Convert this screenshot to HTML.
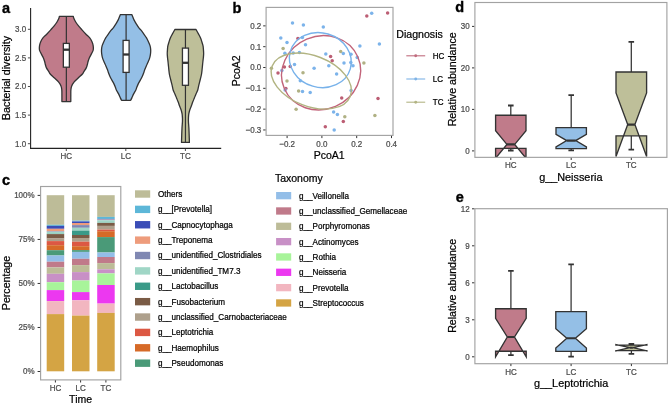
<!DOCTYPE html>
<html><head><meta charset="utf-8"><style>
html,body{margin:0;padding:0;background:#fff;width:669px;height:405px;overflow:hidden;}
svg{display:block;will-change:transform;font-family:"Liberation Sans", sans-serif;}
</style></head><body>
<svg width="669" height="405" viewBox="0 0 669 405" font-family='"Liberation Sans", sans-serif'><rect width="669" height="405" fill="#fff"/><text x="2" y="13" font-size="14.5" fill="#000" text-anchor="start" font-weight="bold" stroke="#000" stroke-width="0.35" >a</text>
<path d="M59.35,16.4 L73.35,16.4 C73.41,16.67 73.31,17.07 73.7,18 C74.09,18.93 74.9,20.68 75.7,22 C76.5,23.32 77.45,24.58 78.5,25.9 C79.55,27.22 80.79,28.55 82,29.9 C83.21,31.25 84.46,32.66 85.75,34 C87.04,35.34 88.69,36.63 89.75,37.95 C90.81,39.27 91.52,40.58 92.1,41.9 C92.67,43.22 93.01,44.53 93.2,45.85 C93.39,47.17 93.55,48.46 93.25,49.8 C92.95,51.14 92.04,52.56 91.4,53.9 C90.76,55.24 89.97,56.53 89.4,57.85 C88.83,59.17 88.34,60.69 88,61.8 C87.66,62.91 87.64,63.48 87.35,64.5 C87.06,65.52 86.85,66.67 86.25,67.9 C85.65,69.13 84.38,70.88 83.75,71.9 C83.12,72.92 83.37,72.98 82.45,74 C81.52,75.02 79.57,76.68 78.2,78 C76.82,79.32 75.28,80.58 74.2,81.9 C73.12,83.22 72.25,84.58 71.7,85.9 C71.15,87.22 71.05,88.28 70.9,89.8 C70.75,91.32 70.82,93.03 70.8,95 C70.78,96.97 70.8,100.5 70.8,101.6 L61.9,101.6 C61.9,100.5 61.92,96.97 61.9,95 C61.88,93.03 61.95,91.32 61.8,89.8 C61.65,88.28 61.55,87.22 61,85.9 C60.45,84.58 59.58,83.22 58.5,81.9 C57.42,80.58 55.87,79.32 54.5,78 C53.12,76.68 51.17,75.02 50.25,74 C49.32,72.98 49.58,72.92 48.95,71.9 C48.32,70.88 47.05,69.13 46.45,67.9 C45.85,66.67 45.64,65.52 45.35,64.5 C45.06,63.48 45.04,62.91 44.7,61.8 C44.36,60.69 43.87,59.17 43.3,57.85 C42.73,56.53 41.94,55.24 41.3,53.9 C40.66,52.56 39.75,51.14 39.45,49.8 C39.15,48.46 39.31,47.17 39.5,45.85 C39.69,44.53 40.02,43.22 40.6,41.9 C41.17,40.58 41.89,39.27 42.95,37.95 C44.01,36.63 45.66,35.34 46.95,34 C48.24,32.66 49.49,31.25 50.7,29.9 C51.91,28.55 53.15,27.22 54.2,25.9 C55.25,24.58 56.2,23.32 57,22 C57.8,20.68 58.61,18.93 59,18 C59.39,17.07 59.29,16.67 59.35,16.4 Z" fill="#C07B8A" stroke="#333" stroke-width="1.3" stroke-linejoin="round"/>
<line x1="66.35" y1="16.4" x2="66.35" y2="101.6" stroke="#333" stroke-width="1.2" />
<rect x="63.35" y="43.4" width="6" height="23.8" fill="#fff" stroke="#333" stroke-width="1.3"/>
<line x1="63.35" y1="49.7" x2="69.35" y2="49.7" stroke="#333" stroke-width="2.3" />
<path d="M120.4,14.6 L131.8,14.6 C131.9,14.82 132.03,15.07 132.4,15.95 C132.77,16.83 133.35,18.58 134,19.9 C134.65,21.22 135.48,22.53 136.3,23.85 C137.12,25.17 138.15,26.78 138.9,27.8 C139.65,28.82 140,28.93 140.8,29.95 C141.6,30.97 142.75,32.58 143.7,33.9 C144.65,35.22 145.7,36.52 146.5,37.85 C147.3,39.18 147.9,40.55 148.5,41.9 C149.1,43.25 149.73,44.62 150.1,45.95 C150.47,47.28 150.63,48.58 150.7,49.9 C150.77,51.22 150.67,52.52 150.5,53.85 C150.33,55.18 150.1,56.55 149.7,57.9 C149.3,59.25 148.67,60.62 148.1,61.95 C147.53,63.28 146.87,64.58 146.3,65.9 C145.73,67.22 145.08,68.83 144.7,69.85 C144.32,70.87 144.38,70.98 144,72 C143.62,73.02 143.04,74.63 142.45,75.95 C141.86,77.27 141.15,78.58 140.45,79.9 C139.75,81.22 138.88,82.58 138.25,83.85 C137.62,85.12 137.1,86.48 136.7,87.5 C136.3,88.52 136.36,88.88 135.85,89.95 C135.34,91.02 134.32,92.58 133.65,93.9 C132.98,95.22 132.35,96.78 131.85,97.85 C131.35,98.92 130.85,99.89 130.65,100.3 L121.55,100.3 C121.35,99.89 120.85,98.92 120.35,97.85 C119.85,96.78 119.22,95.22 118.55,93.9 C117.88,92.58 116.86,91.02 116.35,89.95 C115.84,88.88 115.9,88.52 115.5,87.5 C115.1,86.48 114.57,85.12 113.95,83.85 C113.32,82.58 112.45,81.22 111.75,79.9 C111.05,78.58 110.34,77.27 109.75,75.95 C109.16,74.63 108.57,73.02 108.2,72 C107.82,70.98 107.88,70.87 107.5,69.85 C107.12,68.83 106.47,67.22 105.9,65.9 C105.33,64.58 104.67,63.28 104.1,61.95 C103.53,60.62 102.9,59.25 102.5,57.9 C102.1,56.55 101.87,55.18 101.7,53.85 C101.53,52.52 101.43,51.22 101.5,49.9 C101.57,48.58 101.73,47.28 102.1,45.95 C102.47,44.62 103.1,43.25 103.7,41.9 C104.3,40.55 104.9,39.18 105.7,37.85 C106.5,36.52 107.55,35.22 108.5,33.9 C109.45,32.58 110.6,30.97 111.4,29.95 C112.2,28.93 112.55,28.82 113.3,27.8 C114.05,26.78 115.08,25.17 115.9,23.85 C116.72,22.53 117.55,21.22 118.2,19.9 C118.85,18.58 119.43,16.83 119.8,15.95 C120.17,15.07 120.3,14.82 120.4,14.6 Z" fill="#94BFE6" stroke="#333" stroke-width="1.3" stroke-linejoin="round"/>
<line x1="126.1" y1="14.6" x2="126.1" y2="100.3" stroke="#333" stroke-width="1.2" />
<rect x="123.1" y="40.4" width="6" height="32" fill="#fff" stroke="#333" stroke-width="1.3"/>
<line x1="123.1" y1="54.5" x2="129.1" y2="54.5" stroke="#333" stroke-width="2.3" />
<path d="M174.85,29.5 L196.05,29.5 C196.45,30.23 197.72,32.51 198.45,33.9 C199.18,35.29 199.88,36.53 200.45,37.85 C201.02,39.17 201.42,40.45 201.85,41.8 C202.28,43.15 202.78,44.6 203.05,45.95 C203.32,47.3 203.35,48.58 203.45,49.9 C203.55,51.22 203.67,52.53 203.65,53.85 C203.63,55.17 203.48,56.45 203.35,57.8 C203.22,59.15 203,60.6 202.85,61.95 C202.7,63.3 202.58,64.58 202.45,65.9 C202.32,67.22 202.2,68.5 202.05,69.85 C201.9,71.2 201.78,72.65 201.55,74 C201.32,75.35 200.97,76.63 200.65,77.95 C200.33,79.27 199.98,80.58 199.65,81.9 C199.32,83.22 198.97,84.5 198.65,85.85 C198.33,87.2 198.19,88.65 197.75,90 C197.31,91.35 196.56,92.63 196,93.95 C195.44,95.27 194.93,96.58 194.4,97.9 C193.87,99.22 193.3,100.53 192.8,101.85 C192.3,103.17 191.91,104.45 191.4,105.8 C190.89,107.15 190.18,108.6 189.75,109.95 C189.32,111.3 189.02,112.58 188.8,113.9 C188.58,115.22 188.51,116.53 188.45,117.85 C188.39,119.17 188.38,120.11 188.45,121.8 C188.52,123.49 188.77,125.65 188.9,128 C189.02,130.35 189.12,133.5 189.2,135.9 C189.28,138.3 189.37,141.32 189.4,142.4 L181.5,142.4 C181.53,141.32 181.62,138.3 181.7,135.9 C181.78,133.5 181.88,130.35 182,128 C182.12,125.65 182.38,123.49 182.45,121.8 C182.52,120.11 182.51,119.17 182.45,117.85 C182.39,116.53 182.32,115.22 182.1,113.9 C181.88,112.58 181.58,111.3 181.15,109.95 C180.72,108.6 180.01,107.15 179.5,105.8 C178.99,104.45 178.6,103.17 178.1,101.85 C177.6,100.53 177.03,99.22 176.5,97.9 C175.97,96.58 175.46,95.27 174.9,93.95 C174.34,92.63 173.59,91.35 173.15,90 C172.71,88.65 172.57,87.2 172.25,85.85 C171.93,84.5 171.58,83.22 171.25,81.9 C170.92,80.58 170.57,79.27 170.25,77.95 C169.93,76.63 169.58,75.35 169.35,74 C169.12,72.65 169,71.2 168.85,69.85 C168.7,68.5 168.58,67.22 168.45,65.9 C168.32,64.58 168.2,63.3 168.05,61.95 C167.9,60.6 167.68,59.15 167.55,57.8 C167.42,56.45 167.27,55.17 167.25,53.85 C167.23,52.53 167.35,51.22 167.45,49.9 C167.55,48.58 167.58,47.3 167.85,45.95 C168.12,44.6 168.62,43.15 169.05,41.8 C169.48,40.45 169.88,39.17 170.45,37.85 C171.02,36.53 171.72,35.29 172.45,33.9 C173.18,32.51 174.45,30.23 174.85,29.5 Z" fill="#BEBF99" stroke="#333" stroke-width="1.3" stroke-linejoin="round"/>
<line x1="185.45" y1="29.5" x2="185.45" y2="142.4" stroke="#333" stroke-width="1.2" />
<rect x="182.45" y="48.1" width="6" height="37.2" fill="#fff" stroke="#333" stroke-width="1.3"/>
<line x1="182.45" y1="62.8" x2="188.45" y2="62.8" stroke="#333" stroke-width="2.3" />
<line x1="30.6" y1="8" x2="30.6" y2="148.9" stroke="#222" stroke-width="1.1" />
<line x1="30.05" y1="148.4" x2="221.2" y2="148.4" stroke="#222" stroke-width="1.1" />
<line x1="27.9" y1="29.3" x2="30.1" y2="29.3" stroke="#4D4D4D" stroke-width="1.0" />
<text x="0" y="0" font-size="8" fill="#4D4D4D" text-anchor="end" font-weight="normal" stroke="#4D4D4D" stroke-width="0.22" transform="translate(26.2,32.2) scale(1,1.12)">3.0</text>
<line x1="27.9" y1="57.9" x2="30.1" y2="57.9" stroke="#4D4D4D" stroke-width="1.0" />
<text x="0" y="0" font-size="8" fill="#4D4D4D" text-anchor="end" font-weight="normal" stroke="#4D4D4D" stroke-width="0.22" transform="translate(26.2,60.8) scale(1,1.12)">2.5</text>
<line x1="27.9" y1="86.5" x2="30.1" y2="86.5" stroke="#4D4D4D" stroke-width="1.0" />
<text x="0" y="0" font-size="8" fill="#4D4D4D" text-anchor="end" font-weight="normal" stroke="#4D4D4D" stroke-width="0.22" transform="translate(26.2,89.4) scale(1,1.12)">2.0</text>
<line x1="27.9" y1="115.1" x2="30.1" y2="115.1" stroke="#4D4D4D" stroke-width="1.0" />
<text x="0" y="0" font-size="8" fill="#4D4D4D" text-anchor="end" font-weight="normal" stroke="#4D4D4D" stroke-width="0.22" transform="translate(26.2,118) scale(1,1.12)">1.5</text>
<line x1="27.9" y1="143.7" x2="30.1" y2="143.7" stroke="#4D4D4D" stroke-width="1.0" />
<text x="0" y="0" font-size="8" fill="#4D4D4D" text-anchor="end" font-weight="normal" stroke="#4D4D4D" stroke-width="0.22" transform="translate(26.2,146.6) scale(1,1.12)">1.0</text>
<line x1="66.3" y1="148.9" x2="66.3" y2="151" stroke="#4D4D4D" stroke-width="1.0" />
<text x="0" y="0" font-size="8" fill="#4D4D4D" text-anchor="middle" font-weight="normal" stroke="#4D4D4D" stroke-width="0.22" transform="translate(66.3,158.9) scale(1,1.12)">HC</text>
<line x1="125.8" y1="148.9" x2="125.8" y2="151" stroke="#4D4D4D" stroke-width="1.0" />
<text x="0" y="0" font-size="8" fill="#4D4D4D" text-anchor="middle" font-weight="normal" stroke="#4D4D4D" stroke-width="0.22" transform="translate(125.8,158.9) scale(1,1.12)">LC</text>
<line x1="185.4" y1="148.9" x2="185.4" y2="151" stroke="#4D4D4D" stroke-width="1.0" />
<text x="0" y="0" font-size="8" fill="#4D4D4D" text-anchor="middle" font-weight="normal" stroke="#4D4D4D" stroke-width="0.22" transform="translate(185.4,158.9) scale(1,1.12)">TC</text>
<text x="0" y="0" font-size="10.75" fill="#000" text-anchor="middle" font-weight="normal" stroke="#000" stroke-width="0.22" transform="translate(9.6,78) rotate(-90)">Bacterial diversity</text>
<text x="232.6" y="12.8" font-size="14.5" fill="#000" text-anchor="start" font-weight="bold" stroke="#000" stroke-width="0.35" >b</text>
<defs><clipPath id="cb"><rect x="266" y="7.4" width="126.6" height="128"/></clipPath></defs>
<g clip-path="url(#cb)">
<circle cx="283.1" cy="48.4" r="1.75" fill="#B0B184"/>
<circle cx="340.7" cy="51.5" r="1.75" fill="#B0B184"/>
<circle cx="271.4" cy="68.3" r="1.75" fill="#B0B184"/>
<circle cx="303" cy="72.7" r="1.75" fill="#B0B184"/>
<circle cx="287" cy="81" r="1.75" fill="#B0B184"/>
<circle cx="298.6" cy="91" r="1.75" fill="#B0B184"/>
<circle cx="363.9" cy="63" r="1.75" fill="#B0B184"/>
<circle cx="296.1" cy="109.3" r="1.75" fill="#B0B184"/>
<circle cx="344.8" cy="116.8" r="1.75" fill="#B0B184"/>
<circle cx="374.9" cy="115.5" r="1.75" fill="#B0B184"/>
<circle cx="297.9" cy="38.4" r="1.75" fill="#BC5E74"/>
<circle cx="330.6" cy="56.5" r="1.75" fill="#BC5E74"/>
<circle cx="332.2" cy="60.7" r="1.75" fill="#BC5E74"/>
<circle cx="284.4" cy="66.9" r="1.75" fill="#BC5E74"/>
<circle cx="290.2" cy="66.4" r="1.75" fill="#BC5E74"/>
<circle cx="278" cy="73" r="1.75" fill="#BC5E74"/>
<circle cx="285.9" cy="88.4" r="1.75" fill="#BC5E74"/>
<circle cx="341.7" cy="97.9" r="1.75" fill="#BC5E74"/>
<circle cx="378" cy="98.5" r="1.75" fill="#BC5E74"/>
<circle cx="343.3" cy="121.6" r="1.75" fill="#BC5E74"/>
<circle cx="325.3" cy="126.7" r="1.75" fill="#BC5E74"/>
<circle cx="366.8" cy="15.9" r="1.75" fill="#BC5E74"/>
<circle cx="387.6" cy="13" r="1.75" fill="#BC5E74"/>
<circle cx="292.5" cy="22.9" r="1.75" fill="#7CB3EA"/>
<circle cx="303.4" cy="25.1" r="1.75" fill="#7CB3EA"/>
<circle cx="323.3" cy="27" r="1.75" fill="#7CB3EA"/>
<circle cx="280.8" cy="37.9" r="1.75" fill="#7CB3EA"/>
<circle cx="287" cy="42.5" r="1.75" fill="#7CB3EA"/>
<circle cx="302.4" cy="37.6" r="1.75" fill="#7CB3EA"/>
<circle cx="305.5" cy="44.7" r="1.75" fill="#7CB3EA"/>
<circle cx="284.9" cy="53.3" r="1.75" fill="#7CB3EA"/>
<circle cx="293.2" cy="52.9" r="1.75" fill="#7CB3EA"/>
<circle cx="299.4" cy="52.5" r="1.75" fill="#7CB3EA"/>
<circle cx="325.8" cy="54.1" r="1.75" fill="#7CB3EA"/>
<circle cx="343.3" cy="53.4" r="1.75" fill="#7CB3EA"/>
<circle cx="351" cy="54.2" r="1.75" fill="#7CB3EA"/>
<circle cx="359.9" cy="46" r="1.75" fill="#7CB3EA"/>
<circle cx="357.2" cy="57.4" r="1.75" fill="#7CB3EA"/>
<circle cx="294.5" cy="64.5" r="1.75" fill="#7CB3EA"/>
<circle cx="314.1" cy="68.2" r="1.75" fill="#7CB3EA"/>
<circle cx="328.8" cy="65.7" r="1.75" fill="#7CB3EA"/>
<circle cx="344" cy="63" r="1.75" fill="#7CB3EA"/>
<circle cx="350.8" cy="62.4" r="1.75" fill="#7CB3EA"/>
<circle cx="353" cy="65.7" r="1.75" fill="#7CB3EA"/>
<circle cx="281.9" cy="70.5" r="1.75" fill="#7CB3EA"/>
<circle cx="336.6" cy="74.1" r="1.75" fill="#7CB3EA"/>
<circle cx="300.3" cy="80.8" r="1.75" fill="#7CB3EA"/>
<circle cx="285.1" cy="89.9" r="1.75" fill="#7CB3EA"/>
<circle cx="302.5" cy="91.4" r="1.75" fill="#7CB3EA"/>
<circle cx="310.2" cy="92.4" r="1.75" fill="#7CB3EA"/>
<circle cx="351.1" cy="90.5" r="1.75" fill="#7CB3EA"/>
<circle cx="333.6" cy="112.1" r="1.75" fill="#7CB3EA"/>
<circle cx="337.4" cy="114.4" r="1.75" fill="#7CB3EA"/>
<circle cx="334.2" cy="130" r="1.75" fill="#7CB3EA"/>
<circle cx="371.7" cy="13.3" r="1.75" fill="#7CB3EA"/>
<circle cx="379.4" cy="43.9" r="1.75" fill="#7CB3EA"/>
<ellipse cx="0" cy="0" rx="40.04" ry="36.56" fill="none" stroke="#C2647A" stroke-width="1.4" transform="translate(321.1,72.8) rotate(-23.2)"/>
<ellipse cx="0" cy="0" rx="31.23" ry="27.2" fill="none" stroke="#78B2EA" stroke-width="1.4" transform="translate(320.35,60.05) rotate(16.4)"/>
<ellipse cx="0" cy="0" rx="41.87" ry="25.28" fill="none" stroke="#B2B482" stroke-width="1.4" transform="translate(311.27,81.09) rotate(21.1)"/>
</g>
<rect x="266.1" y="7.4" width="126.9" height="128" fill="none" stroke="#A2A2A2" stroke-width="1.15"/>
<line x1="263.2" y1="25.86" x2="265.5" y2="25.86" stroke="#333" stroke-width="1.0" />
<text x="0" y="0" font-size="8" fill="#4D4D4D" text-anchor="end" font-weight="normal" stroke="#4D4D4D" stroke-width="0.22" transform="translate(261.3,28.76) scale(1,1.12)">0.2</text>
<line x1="263.2" y1="46.68" x2="265.5" y2="46.68" stroke="#333" stroke-width="1.0" />
<text x="0" y="0" font-size="8" fill="#4D4D4D" text-anchor="end" font-weight="normal" stroke="#4D4D4D" stroke-width="0.22" transform="translate(261.3,49.58) scale(1,1.12)">0.1</text>
<line x1="263.2" y1="67.5" x2="265.5" y2="67.5" stroke="#333" stroke-width="1.0" />
<text x="0" y="0" font-size="8" fill="#4D4D4D" text-anchor="end" font-weight="normal" stroke="#4D4D4D" stroke-width="0.22" transform="translate(261.3,70.4) scale(1,1.12)">0.0</text>
<line x1="263.2" y1="88.32" x2="265.5" y2="88.32" stroke="#333" stroke-width="1.0" />
<text x="0" y="0" font-size="8" fill="#4D4D4D" text-anchor="end" font-weight="normal" stroke="#4D4D4D" stroke-width="0.22" transform="translate(261.3,91.22) scale(1,1.12)">&#8722;0.1</text>
<line x1="263.2" y1="109.14" x2="265.5" y2="109.14" stroke="#333" stroke-width="1.0" />
<text x="0" y="0" font-size="8" fill="#4D4D4D" text-anchor="end" font-weight="normal" stroke="#4D4D4D" stroke-width="0.22" transform="translate(261.3,112.04) scale(1,1.12)">&#8722;0.2</text>
<line x1="263.2" y1="129.96" x2="265.5" y2="129.96" stroke="#333" stroke-width="1.0" />
<text x="0" y="0" font-size="8" fill="#4D4D4D" text-anchor="end" font-weight="normal" stroke="#4D4D4D" stroke-width="0.22" transform="translate(261.3,132.86) scale(1,1.12)">&#8722;0.3</text>
<line x1="287.1" y1="135.9" x2="287.1" y2="138.1" stroke="#333" stroke-width="1.0" />
<text x="0" y="0" font-size="8" fill="#4D4D4D" text-anchor="middle" font-weight="normal" stroke="#4D4D4D" stroke-width="0.22" transform="translate(287.1,146.9) scale(1,1.12)">&#8722;0.2</text>
<line x1="321.9" y1="135.9" x2="321.9" y2="138.1" stroke="#333" stroke-width="1.0" />
<text x="0" y="0" font-size="8" fill="#4D4D4D" text-anchor="middle" font-weight="normal" stroke="#4D4D4D" stroke-width="0.22" transform="translate(321.9,146.9) scale(1,1.12)">0.0</text>
<line x1="356.7" y1="135.9" x2="356.7" y2="138.1" stroke="#333" stroke-width="1.0" />
<text x="0" y="0" font-size="8" fill="#4D4D4D" text-anchor="middle" font-weight="normal" stroke="#4D4D4D" stroke-width="0.22" transform="translate(356.7,146.9) scale(1,1.12)">0.2</text>
<line x1="391.5" y1="135.9" x2="391.5" y2="138.1" stroke="#333" stroke-width="1.0" />
<text x="0" y="0" font-size="8" fill="#4D4D4D" text-anchor="middle" font-weight="normal" stroke="#4D4D4D" stroke-width="0.22" transform="translate(391.5,146.9) scale(1,1.12)">0.4</text>
<text x="329.2" y="158.6" font-size="10.5" fill="#000" text-anchor="middle" font-weight="normal" stroke="#000" stroke-width="0.22" >PcoA1</text>
<text x="0" y="0" font-size="10.5" fill="#000" text-anchor="middle" font-weight="normal" stroke="#000" stroke-width="0.22" transform="translate(240.2,70.8) rotate(-90)">PcoA2</text>
<text x="396.3" y="38" font-size="10.6" fill="#000" text-anchor="start" font-weight="normal" stroke="#000" stroke-width="0.22" >Diagnosis</text>
<line x1="406.3" y1="55.8" x2="425.2" y2="55.8" stroke="#C06C7E" stroke-width="1.1" />
<circle cx="415.7" cy="55.8" r="1.45" fill="#C06C7E"/>
<text x="0" y="0" font-size="8" fill="#000" text-anchor="start" font-weight="normal" stroke="#000" stroke-width="0.22" transform="translate(432.8,58.7) scale(1,1.12)">HC</text>
<line x1="406.3" y1="79" x2="425.2" y2="79" stroke="#7FB3E6" stroke-width="1.1" />
<circle cx="415.7" cy="79" r="1.45" fill="#7FB3E6"/>
<text x="0" y="0" font-size="8" fill="#000" text-anchor="start" font-weight="normal" stroke="#000" stroke-width="0.22" transform="translate(432.8,81.9) scale(1,1.12)">LC</text>
<line x1="406.3" y1="102.2" x2="425.2" y2="102.2" stroke="#B3B484" stroke-width="1.1" />
<circle cx="415.7" cy="102.2" r="1.45" fill="#B3B484"/>
<text x="0" y="0" font-size="8" fill="#000" text-anchor="start" font-weight="normal" stroke="#000" stroke-width="0.22" transform="translate(432.8,105.1) scale(1,1.12)">TC</text>
<text x="2" y="184.8" font-size="14.5" fill="#000" text-anchor="start" font-weight="bold" stroke="#000" stroke-width="0.35" >c</text>
<rect x="46.7" y="195.2" width="17.5" height="29.6" fill="#BDBC98"/>
<rect x="46.7" y="224.8" width="17.5" height="1.1" fill="#5DB7D8"/>
<rect x="46.7" y="225.9" width="17.5" height="2.9" fill="#3B4DB7"/>
<rect x="46.7" y="228.8" width="17.5" height="2.4" fill="#EE9C7C"/>
<rect x="46.7" y="231.2" width="17.5" height="0.6" fill="#8088B2"/>
<rect x="46.7" y="231.8" width="17.5" height="2" fill="#A0D6C6"/>
<rect x="46.7" y="233.8" width="17.5" height="0.3" fill="#3A9A88"/>
<rect x="46.7" y="234.1" width="17.5" height="4.4" fill="#7A5B45"/>
<rect x="46.7" y="238.5" width="17.5" height="2.6" fill="#AEA08C"/>
<rect x="46.7" y="241.1" width="17.5" height="4.1" fill="#DC5843"/>
<rect x="46.7" y="245.2" width="17.5" height="5" fill="#D66A28"/>
<rect x="46.7" y="250.2" width="17.5" height="5.3" fill="#4A9A78"/>
<rect x="46.7" y="255.5" width="17.5" height="6.2" fill="#93BEE8"/>
<rect x="46.7" y="261.7" width="17.5" height="5.7" fill="#C07A8A"/>
<rect x="46.7" y="267.4" width="17.5" height="6.4" fill="#BDBC98"/>
<rect x="46.7" y="273.8" width="17.5" height="8.4" fill="#C890C6"/>
<rect x="46.7" y="282.2" width="17.5" height="7.9" fill="#A8F49A"/>
<rect x="46.7" y="290.1" width="17.5" height="11" fill="#EC38F0"/>
<rect x="46.7" y="301.1" width="17.5" height="13" fill="#F2B6C0"/>
<rect x="46.7" y="314.1" width="17.5" height="57.2" fill="#D4A444"/>
<rect x="72" y="195.2" width="17.5" height="25.5" fill="#BDBC98"/>
<rect x="72" y="220.7" width="17.5" height="0.7" fill="#5DB7D8"/>
<rect x="72" y="221.4" width="17.5" height="1.6" fill="#3B4DB7"/>
<rect x="72" y="223" width="17.5" height="2.1" fill="#EE9C7C"/>
<rect x="72" y="225.1" width="17.5" height="2.7" fill="#8088B2"/>
<rect x="72" y="227.8" width="17.5" height="2.8" fill="#A0D6C6"/>
<rect x="72" y="230.6" width="17.5" height="4.4" fill="#3A9A88"/>
<rect x="72" y="235" width="17.5" height="3" fill="#7A5B45"/>
<rect x="72" y="238" width="17.5" height="3.7" fill="#AEA08C"/>
<rect x="72" y="241.7" width="17.5" height="4.5" fill="#DC5843"/>
<rect x="72" y="246.2" width="17.5" height="3.9" fill="#D66A28"/>
<rect x="72" y="250.1" width="17.5" height="1.8" fill="#4A9A78"/>
<rect x="72" y="251.9" width="17.5" height="6.9" fill="#93BEE8"/>
<rect x="72" y="258.8" width="17.5" height="6.3" fill="#C07A8A"/>
<rect x="72" y="265.1" width="17.5" height="7" fill="#BDBC98"/>
<rect x="72" y="272.1" width="17.5" height="8.4" fill="#C890C6"/>
<rect x="72" y="280.5" width="17.5" height="11.6" fill="#A8F49A"/>
<rect x="72" y="292.1" width="17.5" height="8.2" fill="#EC38F0"/>
<rect x="72" y="300.3" width="17.5" height="15.3" fill="#F2B6C0"/>
<rect x="72" y="315.6" width="17.5" height="55.7" fill="#D4A444"/>
<rect x="97.2" y="195.2" width="17.5" height="21.7" fill="#BDBC98"/>
<rect x="97.2" y="216.9" width="17.5" height="2" fill="#5DB7D8"/>
<rect x="97.2" y="218.9" width="17.5" height="0.55" fill="#3B4DB7"/>
<rect x="97.2" y="219.45" width="17.5" height="0.3" fill="#EE9C7C"/>
<rect x="97.2" y="219.75" width="17.5" height="0.55" fill="#8088B2"/>
<rect x="97.2" y="220.3" width="17.5" height="2.5" fill="#A0D6C6"/>
<rect x="97.2" y="222.8" width="17.5" height="0.1" fill="#3A9A88"/>
<rect x="97.2" y="222.9" width="17.5" height="3" fill="#7A5B45"/>
<rect x="97.2" y="225.9" width="17.5" height="3.7" fill="#AEA08C"/>
<rect x="97.2" y="229.6" width="17.5" height="1.6" fill="#DC5843"/>
<rect x="97.2" y="231.2" width="17.5" height="5.9" fill="#D66A28"/>
<rect x="97.2" y="237.1" width="17.5" height="15.4" fill="#4A9A78"/>
<rect x="97.2" y="252.5" width="17.5" height="4.5" fill="#93BEE8"/>
<rect x="97.2" y="257" width="17.5" height="6.1" fill="#C07A8A"/>
<rect x="97.2" y="263.1" width="17.5" height="6.2" fill="#BDBC98"/>
<rect x="97.2" y="269.3" width="17.5" height="4.1" fill="#C890C6"/>
<rect x="97.2" y="273.4" width="17.5" height="11.6" fill="#A8F49A"/>
<rect x="97.2" y="285" width="17.5" height="18.6" fill="#EC38F0"/>
<rect x="97.2" y="303.6" width="17.5" height="9.3" fill="#F2B6C0"/>
<rect x="97.2" y="312.9" width="17.5" height="58.4" fill="#D4A444"/>
<rect x="40.6" y="186.5" width="80.2" height="193.4" fill="none" stroke="#A2A2A2" stroke-width="1.15"/>
<line x1="37.6" y1="195.4" x2="40.1" y2="195.4" stroke="#333" stroke-width="1.0" />
<text x="0" y="0" font-size="8" fill="#4D4D4D" text-anchor="end" font-weight="normal" stroke="#4D4D4D" stroke-width="0.22" transform="translate(34.6,198.3) scale(1,1.12)">100%</text>
<line x1="37.6" y1="239.43" x2="40.1" y2="239.43" stroke="#333" stroke-width="1.0" />
<text x="0" y="0" font-size="8" fill="#4D4D4D" text-anchor="end" font-weight="normal" stroke="#4D4D4D" stroke-width="0.22" transform="translate(34.6,242.33) scale(1,1.12)">75%</text>
<line x1="37.6" y1="283.45" x2="40.1" y2="283.45" stroke="#333" stroke-width="1.0" />
<text x="0" y="0" font-size="8" fill="#4D4D4D" text-anchor="end" font-weight="normal" stroke="#4D4D4D" stroke-width="0.22" transform="translate(34.6,286.35) scale(1,1.12)">50%</text>
<line x1="37.6" y1="327.48" x2="40.1" y2="327.48" stroke="#333" stroke-width="1.0" />
<text x="0" y="0" font-size="8" fill="#4D4D4D" text-anchor="end" font-weight="normal" stroke="#4D4D4D" stroke-width="0.22" transform="translate(34.6,330.38) scale(1,1.12)">25%</text>
<line x1="37.6" y1="371.5" x2="40.1" y2="371.5" stroke="#333" stroke-width="1.0" />
<text x="0" y="0" font-size="8" fill="#4D4D4D" text-anchor="end" font-weight="normal" stroke="#4D4D4D" stroke-width="0.22" transform="translate(34.6,374.4) scale(1,1.12)">0%</text>
<line x1="55.4" y1="380.3" x2="55.4" y2="382.5" stroke="#333" stroke-width="1.0" />
<text x="0" y="0" font-size="8" fill="#4D4D4D" text-anchor="middle" font-weight="normal" stroke="#4D4D4D" stroke-width="0.22" transform="translate(55.4,390.7) scale(1,1.12)">HC</text>
<line x1="80.6" y1="380.3" x2="80.6" y2="382.5" stroke="#333" stroke-width="1.0" />
<text x="0" y="0" font-size="8" fill="#4D4D4D" text-anchor="middle" font-weight="normal" stroke="#4D4D4D" stroke-width="0.22" transform="translate(80.6,390.7) scale(1,1.12)">LC</text>
<line x1="105.9" y1="380.3" x2="105.9" y2="382.5" stroke="#333" stroke-width="1.0" />
<text x="0" y="0" font-size="8" fill="#4D4D4D" text-anchor="middle" font-weight="normal" stroke="#4D4D4D" stroke-width="0.22" transform="translate(105.9,390.7) scale(1,1.12)">TC</text>
<text x="80.6" y="403.2" font-size="10.5" fill="#000" text-anchor="middle" font-weight="normal" stroke="#000" stroke-width="0.22" >Time</text>
<text x="0" y="0" font-size="10.65" fill="#000" text-anchor="middle" font-weight="normal" stroke="#000" stroke-width="0.22" transform="translate(9.7,283) rotate(-90)">Percentage</text>
<text x="274.9" y="181.9" font-size="10.5" fill="#000" text-anchor="start" font-weight="normal" stroke="#000" stroke-width="0.22" >Taxonomy</text>
<text x="0" y="0" font-size="8.12" fill="#000" text-anchor="start" font-weight="normal" stroke="#000" stroke-width="0.22" transform="translate(157.9,196.9) scale(1,1.12)">Others</text>
<text x="0" y="0" font-size="8.12" fill="#000" text-anchor="start" font-weight="normal" stroke="#000" stroke-width="0.22" transform="translate(157.9,212.28) scale(1,1.12)">g__[Prevotella]</text>
<text x="0" y="0" font-size="8.12" fill="#000" text-anchor="start" font-weight="normal" stroke="#000" stroke-width="0.22" transform="translate(157.9,227.66) scale(1,1.12)">g__Capnocytophaga</text>
<text x="0" y="0" font-size="8.12" fill="#000" text-anchor="start" font-weight="normal" stroke="#000" stroke-width="0.22" transform="translate(157.9,243.04) scale(1,1.12)">g__Treponema</text>
<text x="0" y="0" font-size="8.12" fill="#000" text-anchor="start" font-weight="normal" stroke="#000" stroke-width="0.22" transform="translate(157.9,258.42) scale(1,1.12)">g__unidentified_Clostridiales</text>
<text x="0" y="0" font-size="8.12" fill="#000" text-anchor="start" font-weight="normal" stroke="#000" stroke-width="0.22" transform="translate(157.9,273.8) scale(1,1.12)">g__unidentified_TM7.3</text>
<text x="0" y="0" font-size="8.12" fill="#000" text-anchor="start" font-weight="normal" stroke="#000" stroke-width="0.22" transform="translate(157.9,289.18) scale(1,1.12)">g__Lactobacillus</text>
<text x="0" y="0" font-size="8.12" fill="#000" text-anchor="start" font-weight="normal" stroke="#000" stroke-width="0.22" transform="translate(157.9,304.56) scale(1,1.12)">g__Fusobacterium</text>
<text x="0" y="0" font-size="8.12" fill="#000" text-anchor="start" font-weight="normal" stroke="#000" stroke-width="0.22" transform="translate(157.9,319.94) scale(1,1.12)">g__unclassified_Carnobacteriaceae</text>
<text x="0" y="0" font-size="8.12" fill="#000" text-anchor="start" font-weight="normal" stroke="#000" stroke-width="0.22" transform="translate(157.9,335.32) scale(1,1.12)">g__Leptotrichia</text>
<text x="0" y="0" font-size="8.12" fill="#000" text-anchor="start" font-weight="normal" stroke="#000" stroke-width="0.22" transform="translate(157.9,350.7) scale(1,1.12)">g__Haemophilus</text>
<text x="0" y="0" font-size="8.12" fill="#000" text-anchor="start" font-weight="normal" stroke="#000" stroke-width="0.22" transform="translate(157.9,366.08) scale(1,1.12)">g__Pseudomonas</text>
<rect x="135" y="190.3" width="15.2" height="7.4" fill="#BDBC98"/>
<rect x="135" y="205.68" width="15.2" height="7.4" fill="#5DB7D8"/>
<rect x="135" y="221.06" width="15.2" height="7.4" fill="#3B4DB7"/>
<rect x="135" y="236.44" width="15.2" height="7.4" fill="#EE9C7C"/>
<rect x="135" y="251.82" width="15.2" height="7.4" fill="#8088B2"/>
<rect x="135" y="267.2" width="15.2" height="7.4" fill="#A0D6C6"/>
<rect x="135" y="282.58" width="15.2" height="7.4" fill="#3A9A88"/>
<rect x="135" y="297.96" width="15.2" height="7.4" fill="#7A5B45"/>
<rect x="135" y="313.34" width="15.2" height="7.4" fill="#AEA08C"/>
<rect x="135" y="328.72" width="15.2" height="7.4" fill="#DC5843"/>
<rect x="135" y="344.1" width="15.2" height="7.4" fill="#D66A28"/>
<rect x="135" y="359.48" width="15.2" height="7.4" fill="#4A9A78"/>
<rect x="276.1" y="192" width="15.1" height="7.3" fill="#93BEE8"/>
<text x="0" y="0" font-size="8.12" fill="#000" text-anchor="start" font-weight="normal" stroke="#000" stroke-width="0.22" transform="translate(299,198.6) scale(1,1.12)">g__Veillonella</text>
<rect x="276.1" y="207.33" width="15.1" height="7.3" fill="#C07A8A"/>
<text x="0" y="0" font-size="8.12" fill="#000" text-anchor="start" font-weight="normal" stroke="#000" stroke-width="0.22" transform="translate(299,213.93) scale(1,1.12)">g__unclassified_Gemellaceae</text>
<rect x="276.1" y="222.66" width="15.1" height="7.3" fill="#BDBC98"/>
<text x="0" y="0" font-size="8.12" fill="#000" text-anchor="start" font-weight="normal" stroke="#000" stroke-width="0.22" transform="translate(299,229.26) scale(1,1.12)">g__Porphyromonas</text>
<rect x="276.1" y="237.99" width="15.1" height="7.3" fill="#C890C6"/>
<text x="0" y="0" font-size="8.12" fill="#000" text-anchor="start" font-weight="normal" stroke="#000" stroke-width="0.22" transform="translate(299,244.59) scale(1,1.12)">g__Actinomyces</text>
<rect x="276.1" y="253.32" width="15.1" height="7.3" fill="#A8F49A"/>
<text x="0" y="0" font-size="8.12" fill="#000" text-anchor="start" font-weight="normal" stroke="#000" stroke-width="0.22" transform="translate(299,259.92) scale(1,1.12)">g__Rothia</text>
<rect x="276.1" y="268.65" width="15.1" height="7.3" fill="#EC38F0"/>
<text x="0" y="0" font-size="8.12" fill="#000" text-anchor="start" font-weight="normal" stroke="#000" stroke-width="0.22" transform="translate(299,275.25) scale(1,1.12)">g__Neisseria</text>
<rect x="276.1" y="283.98" width="15.1" height="7.3" fill="#F2B6C0"/>
<text x="0" y="0" font-size="8.12" fill="#000" text-anchor="start" font-weight="normal" stroke="#000" stroke-width="0.22" transform="translate(299,290.58) scale(1,1.12)">g__Prevotella</text>
<rect x="276.1" y="299.31" width="15.1" height="7.3" fill="#D4A444"/>
<text x="0" y="0" font-size="8.12" fill="#000" text-anchor="start" font-weight="normal" stroke="#000" stroke-width="0.22" transform="translate(299,305.91) scale(1,1.12)">g__Streptococcus</text>
<text x="455.3" y="12.3" font-size="14.5" fill="#000" text-anchor="start" font-weight="bold" stroke="#000" stroke-width="0.35" >d</text>
<defs><clipPath id="cd"><rect x="474.7" y="2.5" width="192.5" height="154.8"/></clipPath><clipPath id="ce"><rect x="474.8" y="208.8" width="192.4" height="154.6"/></clipPath></defs>
<g clip-path="url(#cd)"><line x1="510.8" y1="105.5" x2="510.8" y2="115.2" stroke="#333" stroke-width="1.25" /><line x1="508" y1="105.5" x2="513.6" y2="105.5" stroke="#333" stroke-width="1.8" /><line x1="510.8" y1="148.4" x2="510.8" y2="150.5" stroke="#333" stroke-width="1.25" /><line x1="508" y1="150.5" x2="513.6" y2="150.5" stroke="#333" stroke-width="1.8" /><path d="M495.6,115.2 L495.6,130.8 L506.9,144.4 L495.6,158.2 L495.6,148.4 L526,148.4 L526,158.2 L514.7,144.4 L526,130.8 L526,115.2 Z" fill="#C07B8A" stroke="#333" stroke-width="1.35" stroke-linejoin="miter"/><line x1="506.9" y1="144.4" x2="514.7" y2="144.4" stroke="#333" stroke-width="2.1" /></g>
<g clip-path="url(#cd)"><line x1="571.2" y1="95.2" x2="571.2" y2="127.6" stroke="#333" stroke-width="1.25" /><line x1="568.4" y1="95.2" x2="574" y2="95.2" stroke="#333" stroke-width="1.8" /><line x1="571.2" y1="148.6" x2="571.2" y2="150.3" stroke="#333" stroke-width="1.25" /><line x1="568.4" y1="150.3" x2="574" y2="150.3" stroke="#333" stroke-width="1.8" /><path d="M556,127.6 L556,134.3 L566.7,140.6 L556,146.9 L556,148.6 L586.4,148.6 L586.4,146.9 L575.7,140.6 L586.4,134.3 L586.4,127.6 Z" fill="#94BFE6" stroke="#333" stroke-width="1.35" stroke-linejoin="miter"/><line x1="566.7" y1="140.6" x2="575.7" y2="140.6" stroke="#333" stroke-width="2.1" /></g>
<g clip-path="url(#cd)"><line x1="631.3" y1="41.8" x2="631.3" y2="72" stroke="#333" stroke-width="1.25" /><line x1="628.5" y1="41.8" x2="634.1" y2="41.8" stroke="#333" stroke-width="1.8" /><line x1="631.3" y1="135.8" x2="631.3" y2="149.7" stroke="#333" stroke-width="1.25" /><line x1="628.5" y1="149.7" x2="634.1" y2="149.7" stroke="#333" stroke-width="1.8" /><path d="M616,72 L616,93 L627.7,124.6 L616,156.4 L616,135.8 L646.6,135.8 L646.6,156.4 L634.9,124.6 L646.6,93 L646.6,72 Z" fill="#BEBF99" stroke="#333" stroke-width="1.35" stroke-linejoin="miter"/><line x1="627.7" y1="124.6" x2="634.9" y2="124.6" stroke="#333" stroke-width="2.1" /></g>
<rect x="474.9" y="2.5" width="192" height="154.85" fill="none" stroke="#A2A2A2" stroke-width="1.15"/>
<line x1="472" y1="150.9" x2="474.2" y2="150.9" stroke="#333" stroke-width="1.0" />
<text x="0" y="0" font-size="8" fill="#4D4D4D" text-anchor="end" font-weight="normal" stroke="#4D4D4D" stroke-width="0.22" transform="translate(469.6,153.8) scale(1,1.12)">0</text>
<line x1="472" y1="109.4" x2="474.2" y2="109.4" stroke="#333" stroke-width="1.0" />
<text x="0" y="0" font-size="8" fill="#4D4D4D" text-anchor="end" font-weight="normal" stroke="#4D4D4D" stroke-width="0.22" transform="translate(469.6,112.3) scale(1,1.12)">10</text>
<line x1="472" y1="67.9" x2="474.2" y2="67.9" stroke="#333" stroke-width="1.0" />
<text x="0" y="0" font-size="8" fill="#4D4D4D" text-anchor="end" font-weight="normal" stroke="#4D4D4D" stroke-width="0.22" transform="translate(469.6,70.8) scale(1,1.12)">20</text>
<line x1="472" y1="26.4" x2="474.2" y2="26.4" stroke="#333" stroke-width="1.0" />
<text x="0" y="0" font-size="8" fill="#4D4D4D" text-anchor="end" font-weight="normal" stroke="#4D4D4D" stroke-width="0.22" transform="translate(469.6,29.3) scale(1,1.12)">30</text>
<line x1="510.8" y1="157.8" x2="510.8" y2="160" stroke="#333" stroke-width="1.0" />
<text x="0" y="0" font-size="8" fill="#4D4D4D" text-anchor="middle" font-weight="normal" stroke="#4D4D4D" stroke-width="0.22" transform="translate(510.8,168.3) scale(1,1.12)">HC</text>
<line x1="571.2" y1="157.8" x2="571.2" y2="160" stroke="#333" stroke-width="1.0" />
<text x="0" y="0" font-size="8" fill="#4D4D4D" text-anchor="middle" font-weight="normal" stroke="#4D4D4D" stroke-width="0.22" transform="translate(571.2,168.3) scale(1,1.12)">LC</text>
<line x1="631.3" y1="157.8" x2="631.3" y2="160" stroke="#333" stroke-width="1.0" />
<text x="0" y="0" font-size="8" fill="#4D4D4D" text-anchor="middle" font-weight="normal" stroke="#4D4D4D" stroke-width="0.22" transform="translate(631.3,168.3) scale(1,1.12)">TC</text>
<text x="570.8" y="180.6" font-size="10.85" fill="#000" text-anchor="middle" font-weight="normal" stroke="#000" stroke-width="0.22" >g__Neisseria</text>
<text x="0" y="0" font-size="10.63" fill="#000" text-anchor="middle" font-weight="normal" stroke="#000" stroke-width="0.22" transform="translate(456.1,79.35) rotate(-90)">Relative abundance</text>
<text x="455.8" y="201.6" font-size="14.5" fill="#000" text-anchor="start" font-weight="bold" stroke="#000" stroke-width="0.35" >e</text>
<g clip-path="url(#ce)"><line x1="510.9" y1="270.9" x2="510.9" y2="308.7" stroke="#333" stroke-width="1.25" /><line x1="508.1" y1="270.9" x2="513.7" y2="270.9" stroke="#333" stroke-width="1.8" /><line x1="510.9" y1="351.2" x2="510.9" y2="355.2" stroke="#333" stroke-width="1.25" /><line x1="508.1" y1="355.2" x2="513.7" y2="355.2" stroke="#333" stroke-width="1.8" /><path d="M495.6,308.7 L495.6,318.3 L507.3,337 L495.6,356.8 L495.6,351.2 L526.2,351.2 L526.2,356.8 L514.5,337 L526.2,318.3 L526.2,308.7 Z" fill="#C07B8A" stroke="#333" stroke-width="1.35" stroke-linejoin="miter"/><line x1="507.3" y1="337" x2="514.5" y2="337" stroke="#333" stroke-width="2.1" /></g>
<g clip-path="url(#ce)"><line x1="571.1" y1="264.4" x2="571.1" y2="311.6" stroke="#333" stroke-width="1.25" /><line x1="568.3" y1="264.4" x2="573.9" y2="264.4" stroke="#333" stroke-width="1.8" /><line x1="571.1" y1="351.3" x2="571.1" y2="356.7" stroke="#333" stroke-width="1.25" /><line x1="568.3" y1="356.7" x2="573.9" y2="356.7" stroke="#333" stroke-width="1.8" /><path d="M555.8,311.6 L555.8,328.7 L566.8,338.3 L555.8,348.1 L555.8,351.3 L586.4,351.3 L586.4,348.1 L575.4,338.3 L586.4,328.7 L586.4,311.6 Z" fill="#94BFE6" stroke="#333" stroke-width="1.35" stroke-linejoin="miter"/><line x1="566.8" y1="338.3" x2="575.4" y2="338.3" stroke="#333" stroke-width="2.1" /></g>
<g clip-path="url(#ce)"><line x1="631.4" y1="344" x2="631.4" y2="345.1" stroke="#333" stroke-width="1.25" /><line x1="628.6" y1="344" x2="634.2" y2="344" stroke="#333" stroke-width="1.8" /><line x1="631.4" y1="350.6" x2="631.4" y2="353.9" stroke="#333" stroke-width="1.25" /><line x1="628.6" y1="353.9" x2="634.2" y2="353.9" stroke="#333" stroke-width="1.8" /><path d="M615.9,345.1 L615.9,344.5 L629.9,347.7 L615.9,351 L615.9,350.6 L646.9,350.6 L646.9,351 L632.9,347.7 L646.9,344.5 L646.9,345.1 Z" fill="#BEBF99" stroke="#333" stroke-width="1.35" stroke-linejoin="miter"/><line x1="629.9" y1="347.7" x2="632.9" y2="347.7" stroke="#333" stroke-width="2.1" /></g>
<rect x="474.9" y="208.7" width="192.5" height="155" fill="none" stroke="#A2A2A2" stroke-width="1.15"/>
<line x1="472" y1="356.8" x2="474.3" y2="356.8" stroke="#333" stroke-width="1.0" />
<text x="0" y="0" font-size="8" fill="#4D4D4D" text-anchor="end" font-weight="normal" stroke="#4D4D4D" stroke-width="0.22" transform="translate(469.6,359.7) scale(1,1.12)">0</text>
<line x1="472" y1="319.8" x2="474.3" y2="319.8" stroke="#333" stroke-width="1.0" />
<text x="0" y="0" font-size="8" fill="#4D4D4D" text-anchor="end" font-weight="normal" stroke="#4D4D4D" stroke-width="0.22" transform="translate(469.6,322.7) scale(1,1.12)">3</text>
<line x1="472" y1="282.8" x2="474.3" y2="282.8" stroke="#333" stroke-width="1.0" />
<text x="0" y="0" font-size="8" fill="#4D4D4D" text-anchor="end" font-weight="normal" stroke="#4D4D4D" stroke-width="0.22" transform="translate(469.6,285.7) scale(1,1.12)">6</text>
<line x1="472" y1="245.8" x2="474.3" y2="245.8" stroke="#333" stroke-width="1.0" />
<text x="0" y="0" font-size="8" fill="#4D4D4D" text-anchor="end" font-weight="normal" stroke="#4D4D4D" stroke-width="0.22" transform="translate(469.6,248.7) scale(1,1.12)">9</text>
<line x1="472" y1="208.8" x2="474.3" y2="208.8" stroke="#333" stroke-width="1.0" />
<text x="0" y="0" font-size="8" fill="#4D4D4D" text-anchor="end" font-weight="normal" stroke="#4D4D4D" stroke-width="0.22" transform="translate(469.6,211.7) scale(1,1.12)">12</text>
<line x1="510.9" y1="363.9" x2="510.9" y2="366.1" stroke="#333" stroke-width="1.0" />
<text x="0" y="0" font-size="8" fill="#4D4D4D" text-anchor="middle" font-weight="normal" stroke="#4D4D4D" stroke-width="0.22" transform="translate(510.9,374.6) scale(1,1.12)">HC</text>
<line x1="571.1" y1="363.9" x2="571.1" y2="366.1" stroke="#333" stroke-width="1.0" />
<text x="0" y="0" font-size="8" fill="#4D4D4D" text-anchor="middle" font-weight="normal" stroke="#4D4D4D" stroke-width="0.22" transform="translate(571.1,374.6) scale(1,1.12)">LC</text>
<line x1="631.4" y1="363.9" x2="631.4" y2="366.1" stroke="#333" stroke-width="1.0" />
<text x="0" y="0" font-size="8" fill="#4D4D4D" text-anchor="middle" font-weight="normal" stroke="#4D4D4D" stroke-width="0.22" transform="translate(631.4,374.6) scale(1,1.12)">TC</text>
<text x="571.1" y="387.2" font-size="10.85" fill="#000" text-anchor="middle" font-weight="normal" stroke="#000" stroke-width="0.22" >g__Leptotrichia</text>
<text x="0" y="0" font-size="10.63" fill="#000" text-anchor="middle" font-weight="normal" stroke="#000" stroke-width="0.22" transform="translate(456.2,285.9) rotate(-90)">Relative abundance</text></svg>
</body></html>
